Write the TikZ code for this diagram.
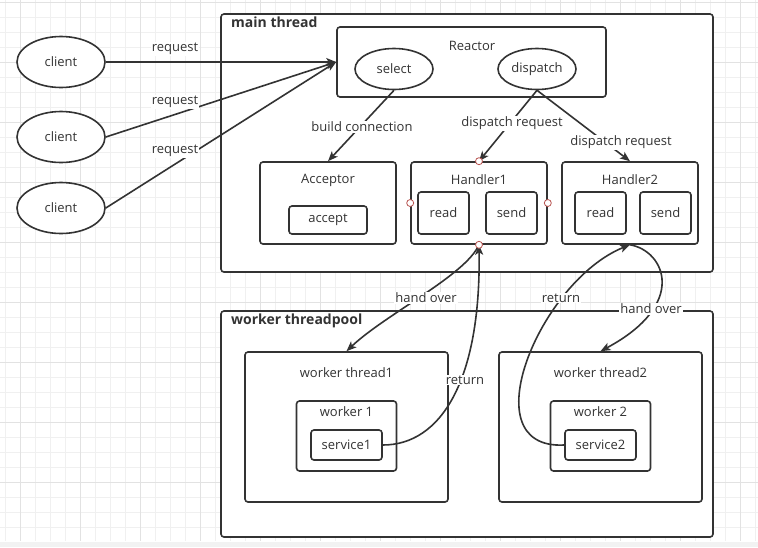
\documentclass[tikz,border=0pt]{standalone}
\usepackage{fontspec}
\setmainfont{Open Sans}
\usetikzlibrary{arrows.meta,positioning,shapes.geometric}
\definecolor{ink}{HTML}{333333}
\definecolor{gridminor}{HTML}{F0F0F0}
\definecolor{gridmajor}{HTML}{E2E2E2}
\definecolor{stripgray}{HTML}{F2F2F2}
\definecolor{portred}{HTML}{B85450}
\newcommand{\txtfont}{\fontsize{13}{15}\selectfont}

\begin{document}
\begin{tikzpicture}[x=1pt,y=-1pt,
  box/.style={draw=ink,line width=1.6pt,fill=white,rounded corners=3pt,inner sep=0pt,text=ink,font=\txtfont},
  oval/.style={ellipse,draw=ink,line width=1.6pt,fill=white,inner sep=0pt,text=ink,font=\txtfont},
  txt/.style={text=ink,font=\txtfont,inner sep=1pt},
  title/.style={text=ink,font=\fontsize{14}{16}\selectfont\bfseries,anchor=west,inner sep=0pt},
  lbl/.style={fill=white,text=ink,font=\txtfont,inner sep=1pt},
  conn/.style={draw=ink,line width=1.6pt,-{Stealth[length=10pt,width=8pt,inset=2.5pt]}},
  port/.style={circle,draw=portred,fill=white,line width=0.8pt,inner sep=0pt,minimum size=7pt}]
\useasboundingbox (0,0) rectangle (758,547);

% background grid
\foreach \gx in {5,20,...,755} \draw[gridminor,line width=1pt] (\gx,0) -- (\gx,541);
\foreach \gy in {2,17,...,541} \draw[gridminor,line width=1pt] (0,\gy) -- (758,\gy);
\foreach \gx in {20,80,...,740} \draw[gridmajor,line width=1pt] (\gx,0) -- (\gx,541);
\foreach \gy in {2,62,...,482} \draw[gridmajor,line width=1pt] (0,\gy) -- (758,\gy);
\fill[stripgray] (0,542) rectangle (758,547);

% clients
\foreach \cy [count=\i] in {62,137,208}
  \node[oval,minimum width=88pt,minimum height=51pt] (client\i) at (61,\cy) {client};

% main thread
\node[box,minimum width=492pt,minimum height=258pt] (main) at (467,143) {};
\node[title] (mainlbl) at (231,22) {main thread};
\node[box,minimum width=269pt,minimum height=70pt] (reactor) at (471.5,62) {};
\node[txt] (reactorlbl) at (472,46) {Reactor};
\node[oval,minimum width=78pt,minimum height=41pt] (select) at (394,69) {select};
\node[oval,minimum width=78pt,minimum height=41pt] (dispatch) at (537,69) {dispatch};

\node[box,minimum width=136pt,minimum height=82pt] (acceptor) at (328,203) {};
\node[txt] (acceptorlbl) at (328,180) {Acceptor};
\node[box,minimum width=78pt,minimum height=28pt] (accept) at (328,220) {accept};

\node[box,minimum width=136pt,minimum height=82pt] (handler1) at (479,203) {};
\node[txt] (handler1lbl) at (479,180) {Handler1};
\node[box,minimum width=51pt,minimum height=42pt] (read1) at (443.5,213) {read};
\node[box,minimum width=51pt,minimum height=42pt] (send1) at (511.5,213) {send};

\node[box,minimum width=136pt,minimum height=82pt] (handler2) at (630,203) {};
\node[txt] (handler2lbl) at (630,180) {Handler2};
\node[box,minimum width=51pt,minimum height=42pt] (read2) at (600.5,213) {read};
\node[box,minimum width=51pt,minimum height=42pt] (send2) at (665.5,213) {send};

% worker threadpool
\node[box,minimum width=492pt,minimum height=226pt] (pool) at (467,424) {};
\node[title] (poollbl) at (231,321) {worker threadpool};
\foreach \wx [count=\i] in {346.5,600.5} {
  \node[box,minimum width=203pt,minimum height=150pt] (wthread\i) at (\wx,427) {};
  \node[txt] (wthread\i lbl) at (\wx,373) {worker thread\i};
  \node[box,minimum width=100pt,minimum height=70pt] (worker\i) at (\wx,436) {};
  \node[txt] (worker\i lbl) at (\wx,412) {worker \i};
  \node[box,minimum width=71pt,minimum height=30pt] (service\i) at (\wx,445) {service\i};
}

% connectors
\foreach \i in {1,2,3} \draw[conn] (client\i.east) -- (reactor.west);
\draw[conn] (select.south) -- (acceptor.north);
\draw[conn] (dispatch.south) -- (handler1.north);
\draw[conn] (dispatch.south) -- (handler2.north);
\draw[conn] (handler1.south) .. controls +(-14,31) and +(39,-37) .. (wthread1.north);
\draw[conn] (service1.east) .. controls +(58,0) and +(2,136) .. (handler1.south);
\draw[conn] (service2.west) .. controls +(-95,5) and +(-90,36) .. (handler2.south);
\draw[conn] (handler2.south) .. controls +(35,6) and +(88,-47) .. (wthread2.north);

% ports of Handler1
\foreach \a in {north,south,west,east} \node[port] (port\a) at (handler1.\a) {};

% labels
\node[lbl] (req1) at (175,49) {request};
\node[lbl] (req2) at (175,102) {request};
\node[lbl] (req3) at (175,151) {request};
\node[lbl] (buildlbl) at (362,127) {build connection};
\node[lbl] (disp1lbl) at (512,123) {dispatch request};
\node[lbl] (disp2lbl) at (621,142) {dispatch request};
\node[lbl] (hand1lbl) at (426,298) {hand over};
\node[lbl] (ret1lbl) at (465,380) {return};
\node[lbl] (ret2lbl) at (561,298) {return};
\node[lbl] (hand2lbl) at (651,309) {hand over};
\end{tikzpicture}
\end{document}
